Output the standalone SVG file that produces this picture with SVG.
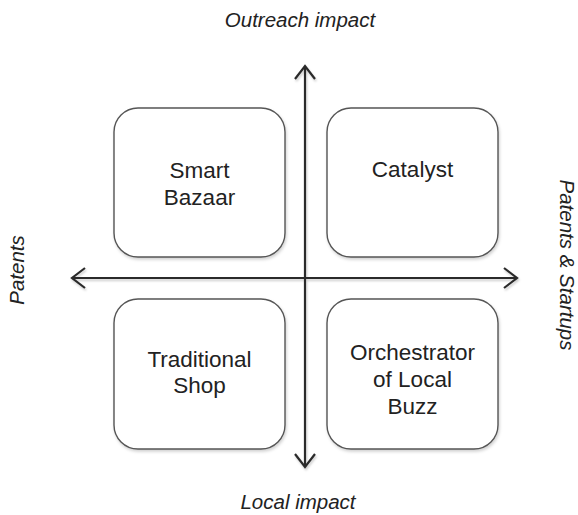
<svg xmlns="http://www.w3.org/2000/svg" width="578" height="515" viewBox="0 0 578 515">
<defs>
<style>
.box{fill:#fff;stroke:#555;stroke-width:1.4;filter:url(#sh)}
.lbl{font-family:"Liberation Sans",Arial,sans-serif;font-size:22.5px;fill:#222;text-anchor:middle}
.ax{font-family:"Liberation Sans",Arial,sans-serif;font-size:20.5px;font-style:italic;fill:#222;text-anchor:middle}
.axis{stroke:#2a2a2a;stroke-width:2.2;fill:none;marker-end:url(#arr)}
</style>
<filter id="sh" x="-10%" y="-10%" width="125%" height="125%">
<feDropShadow dx="1" dy="2" stdDeviation="1.5" flood-color="#000" flood-opacity="0.18"/>
</filter>
<filter id="sh2" filterUnits="userSpaceOnUse" x="0" y="0" width="578" height="515">
<feDropShadow dx="1" dy="2" stdDeviation="1.2" flood-color="#000" flood-opacity="0.2"/>
</filter>
<marker id="arr" markerUnits="userSpaceOnUse" markerWidth="30" markerHeight="30" viewBox="-15 -15 30 30" refX="0" refY="0" orient="auto">
<path d="M-13,-10 L0,0 L-13,10" fill="none" stroke="#2a2a2a" stroke-width="2.2" stroke-linejoin="miter"/>
</marker>
</defs>
<rect width="578" height="515" fill="#fff"/>
<g id="n-smart-bazaar">
<rect class="box" x="114" y="108" width="171" height="149" rx="24"/>
<text class="lbl" x="199.5" y="178">Smart</text>
<text class="lbl" x="199.5" y="205">Bazaar</text>
</g>
<g id="n-catalyst">
<rect class="box" x="327" y="108" width="171" height="149" rx="24"/>
<text class="lbl" x="412.5" y="177">Catalyst</text>
</g>
<g id="n-traditional-shop">
<rect class="box" x="114" y="299" width="171" height="150" rx="24"/>
<text class="lbl" x="199.5" y="367">Traditional</text>
<text class="lbl" x="199.5" y="393">Shop</text>
</g>
<g id="n-orchestrator">
<rect class="box" x="327" y="299" width="171" height="150" rx="24"/>
<text class="lbl" x="412.5" y="360">Orchestrator</text>
<text class="lbl" x="412.5" y="387">of Local</text>
<text class="lbl" x="412.5" y="414">Buzz</text>
</g>
<g id="connectors" filter="url(#sh2)">
<path class="axis" d="M305,278 L305,66"/>
<path class="axis" d="M305,278 L305,467"/>
<path class="axis" d="M305,278 L72,278"/>
<path class="axis" d="M305,278 L517,278"/>
</g>
<g id="axis-labels">
<text class="ax" x="300" y="27">Outreach impact</text>
<text class="ax" x="298" y="509">Local impact</text>
<text class="ax" transform="translate(24,270) rotate(-90)">Patents</text>
<text class="ax" transform="translate(560,265) rotate(90)">Patents &amp; Startups</text>
</g>
</svg>
